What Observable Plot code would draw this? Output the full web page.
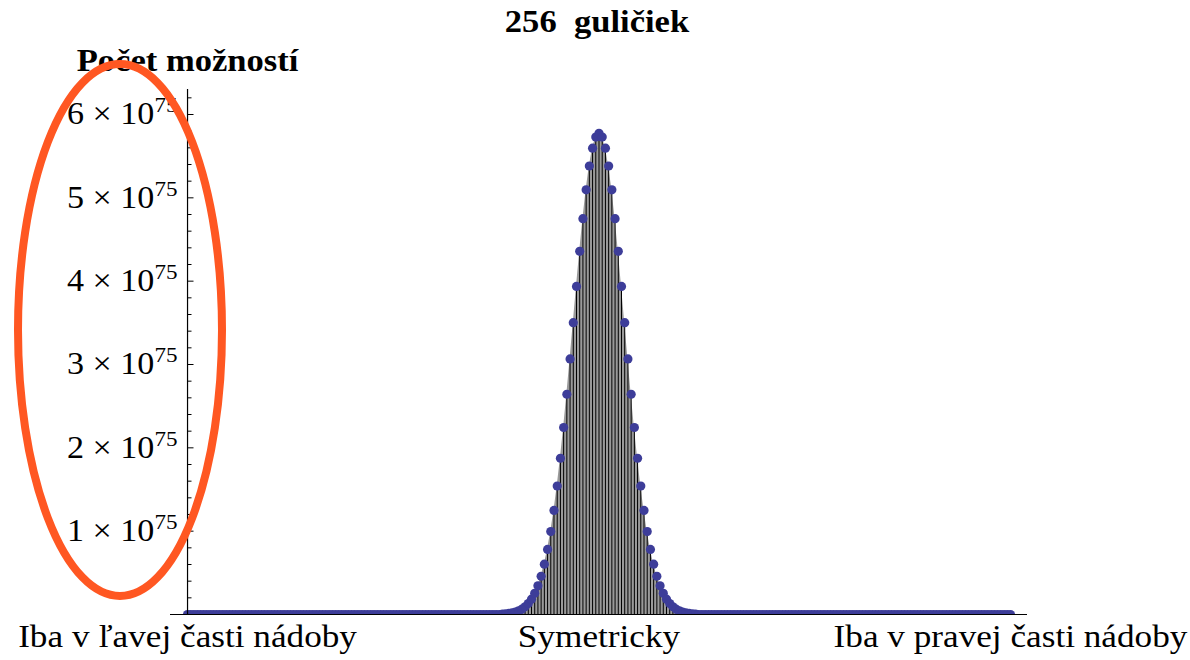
<!DOCTYPE html>
<html><head><meta charset="utf-8">
<script src="https://cdn.jsdelivr.net/npm/d3@7"></script>
<script src="https://cdn.jsdelivr.net/npm/@observablehq/plot@0.6"></script>
<style>
html,body{margin:0;padding:0;background:#fff;}
svg text{white-space:pre;}
</style></head><body>
<div id="chart"></div>
<script>
const title = "256  guličiek";
const yLabel = "Počet možností";
const xTickValues = [0, 128, 256];
const xTickLabels = ["Iba v ľavej časti nádoby", "Symetricky", "Iba v pravej časti nádoby"];
const yMajorTicks = [1, 2, 3, 4, 5, 6];
const yMinorTicks = [0.2, 0.4, 0.6, 0.8, 1.2, 1.4, 1.6, 1.8, 2.2, 2.4, 2.6, 2.8, 3.2, 3.4, 3.6, 3.8,
                     4.2, 4.4, 4.6, 4.8, 5.2, 5.4, 5.6, 5.8, 6.2];
const yExponent = "75";
// number of possibilities (× 10^75) for k = 0 … 256 balls on one side
const counts = [
  0,0,0,0,0,0,0,0,0,0,0,0,0,0,
  0,0,0,0,0,0,0,0,0,0,0,0,0,0,
  0,0,0,0,0,0,0,0,0,0,0,0,0,0,
  0,0,0,0,0,0,0,0,0,0,0,0,0,0,
  0,0,0,0,0,0,0,0,0,0,0,0,0,0,
  0,0,0,0,0,0,0,0,0,0,0,0,0,0,
  0,0,0,0,0,0,0,0,0,0,0,0,0,0,
  0.005, 0.008, 0.013, 0.019, 0.029, 0.044, 0.064, 0.093, 0.132, 0.184,
  0.254, 0.344, 0.459, 0.604, 0.781, 0.995, 1.249, 1.542, 1.875, 2.244,
  2.643, 3.067, 3.502, 3.937, 4.358, 4.750, 5.096, 5.382, 5.596, 5.729,
  5.774,
  5.729, 5.596, 5.382, 5.096, 4.750, 4.358, 3.937, 3.502, 3.067, 2.643,
  2.244, 1.875, 1.542, 1.249, 0.995, 0.781, 0.604, 0.459, 0.344, 0.254,
  0.184, 0.132, 0.093, 0.064, 0.044, 0.029, 0.019, 0.013, 0.008, 0.005,
  0,0,0,0,0,0,0,0,0,0,0,0,0,0,
  0,0,0,0,0,0,0,0,0,0,0,0,0,0,
  0,0,0,0,0,0,0,0,0,0,0,0,0,0,
  0,0,0,0,0,0,0,0,0,0,0,0,0,0,
  0,0,0,0,0,0,0,0,0,0,0,0,0,0,
  0,0,0,0,0,0,0,0,0,0,0,0,0,0,
  0,0,0,0,0,0,0,0,0,0,0,0,0,0
];

const data = counts.map((v, k) => ({k, v}));

// the y axis sits at k = 0, which is 17px right of the frame's left edge
const yAxisShift = 17;

const chart = Plot.plot({
  width: 1190, height: 660,
  marginLeft: 170, marginRight: 163, marginTop: 89, marginBottom: 46,
  style: {fontFamily: '"Liberation Serif", "Times New Roman", serif', background: "white", color: "black", overflow: "visible"},
  x: {domain: [-5.3, 261.3], axis: null},
  y: {domain: [0, 6.3], axis: null},
  marks: [
    Plot.areaY(data, {x: "k", y: "v", fill: "#9a9a9a"}),
    Plot.ruleX(data, {x: "k", y: "v", stroke: "black", strokeWidth: 1}),
    Plot.dot(data, {x: "k", y: "v", r: 4.6, fill: "#3d3d99", clip: true}),
    Plot.ruleY([0], {stroke: "black", strokeWidth: 1.2}),
    Plot.ruleX([0], {stroke: "black", strokeWidth: 1.2}),
    Plot.axisY(yMinorTicks, {tickSize: 4.5, dx: yAxisShift + 4.5, tickFormat: () => "", label: null}),
    Plot.axisY(yMajorTicks, {tickSize: 6.5, dx: yAxisShift + 6.5, tickFormat: () => "", label: null}),
    Plot.axisY(yMajorTicks, {tickSize: 0, tickPadding: 10, dx: yAxisShift, fontSize: 31, tickFormat: d => `${d} × 10`, label: null}),
    Plot.axisX(xTickValues, {tickSize: 0, tickPadding: 10, fontSize: 32, tickFormat: d => xTickLabels[xTickValues.indexOf(d)], label: null}),
    Plot.text([title], {frameAnchor: "top", lineAnchor: "middle", dx: -2, dy: -68, fontSize: 32, fontWeight: "bold"}),
    Plot.text([yLabel], {frameAnchor: "top-left", lineAnchor: "middle", textAnchor: "middle", dx: yAxisShift, dy: -29, fontSize: 32, fontWeight: "bold"})
  ]
});

document.getElementById("chart").append(chart);
const svg = d3.select(chart);

// superscript exponent on y tick labels
svg.selectAll('g[aria-label="y-axis tick label"] text').each(function() {
  const t = d3.select(this);
  const s = t.text();
  if (!s) return;
  t.text(null);
  t.append("tspan").text(s);
  t.append("tspan").attr("dy", -12).attr("font-size", 21).text(yExponent);
});

// the source picture is slightly stretched horizontally
function stretch(sel, f) {
  sel.each(function() {
    const w = this.getComputedTextLength();
    if (!w) return;
    this.setAttribute("textLength", w * f);
    this.setAttribute("lengthAdjust", "spacingAndGlyphs");
  });
}
stretch(svg.selectAll('g[aria-label="y-axis tick label"] text'), 1.1);
stretch(svg.selectAll('g[aria-label="x-axis tick label"] text'), 1.1);
stretch(svg.selectAll('g[aria-label="text"] text'), 1.08);

// hand-drawn highlight around the y-axis labels
svg.append("ellipse")
  .attr("cx", 120).attr("cy", 330).attr("rx", 102).attr("ry", 266)
  .attr("fill", "none").attr("stroke", "#ff5722").attr("stroke-width", 8);
</script>
</body></html>
